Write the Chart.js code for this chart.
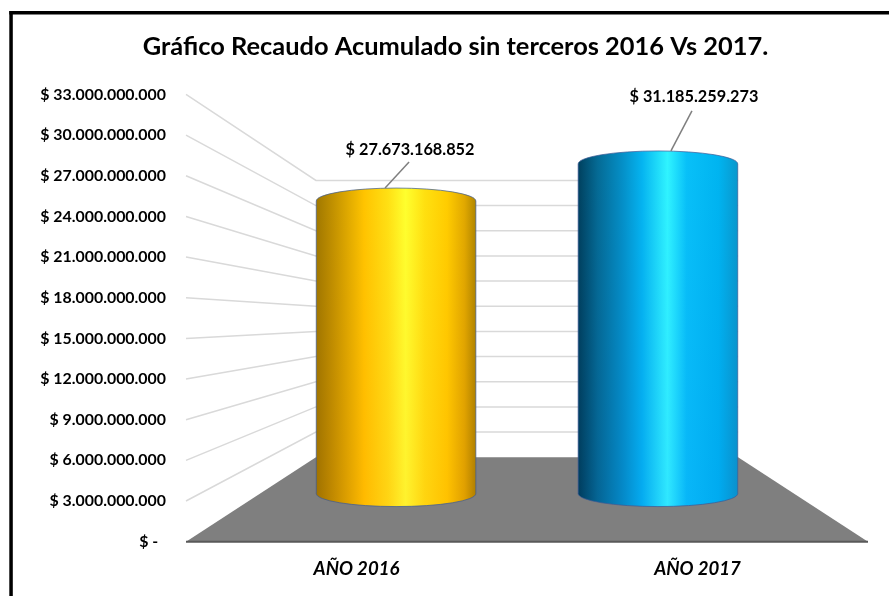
<!DOCTYPE html>
<html>
<head>
<meta charset="utf-8">
<script src="https://cdn.jsdelivr.net/npm/chart.js@4"></script>
<style>
  html, body { margin: 0; padding: 0; background: #fff; }
  canvas { position: absolute; left: 0; top: 0; filter: blur(0.4px); }
</style>
</head>
<body>
<canvas id="grafico" width="889" height="596"></canvas>
<script>
// Datos
const years = ["AÑO 2016", "AÑO 2017"];
const recaudo = [27673168852, 31185259273];
const titulo = "Gráfico Recaudo Acumulado sin terceros 2016 Vs 2017.";
const yMax = 33000000000;
const yStep = 3000000000;

// Colores de cada cilindro
const gradientes = [
  [[0, "#a07800"], [0.1, "#c09000"], [0.3, "#ffc400"], [0.45, "#ffe014"], [0.56, "#ffff2e"], [0.68, "#ffe010"], [0.82, "#ffcc00"], [0.93, "#e0a800"], [1, "#b08600"]],
  [[0, "#00405e"], [0.12, "#056a94"], [0.28, "#0590c8"], [0.4, "#05b4f0"], [0.56, "#30f4ff"], [0.68, "#08c0f8"], [0.88, "#00b4f0"], [1, "#0a98cc"]]
];

// Desplazamiento de la linea guia y de la etiqueta sobre cada cilindro
const guias = [
  { x0: -11, x1: 13, y1: -26, tx: 14, ty: -38 },
  { x0: 13, x1: 34, y1: -40, tx: 36, ty: -54 }
];

const formatNumber = n => n.toString().replace(/\B(?=(\d{3})+(?!\d))/g, ".");

// Perspectiva: punto de fuga y escala del fondo y de los cilindros
const fugaX = 527;
const fugaFondoY = 320;
const fugaCilindroY = 323;
const escalaFondo = 0.619;
const escalaCilindro = 0.78;
const escalaCentro = 0.768;
const proj = (x, y, s, fy) => ({ x: fugaX + (x - fugaX) * s, y: fy + (y - fy) * s });

const cilindros = {
  id: "cilindros",
  afterLayout(chart) {
    // el titulo va un poco a la derecha del centro del lienzo
    chart.titleBlock.left += 23;
  },
  beforeDraw(chart) {
    // marco negro, solo arriba y a la izquierda
    const ctx = chart.ctx;
    ctx.save();
    ctx.fillStyle = "#000";
    ctx.fillRect(9.3, 11, 3.5, 585);
    ctx.fillRect(9.3, 11, 880, 3.5);
    ctx.restore();
  },
  beforeDatasetsDraw(chart) {
    const { ctx, chartArea: a, scales: { y: yScale } } = chart;
    ctx.save();

    // lineas de la pared
    ctx.strokeStyle = "#d9d9d9";
    ctx.lineWidth = 1.5;
    yScale.ticks.forEach(t => {
      if (t.value === 0) return;
      const py = yScale.getPixelForValue(t.value);
      const p1 = proj(a.left, py, escalaFondo, fugaFondoY);
      const p2 = proj(a.right, py, escalaFondo, fugaFondoY);
      ctx.beginPath();
      ctx.moveTo(a.left, py);
      ctx.lineTo(p1.x, p1.y);
      ctx.lineTo(p2.x, p2.y);
      ctx.stroke();
    });

    // piso
    const base = yScale.getPixelForValue(0);
    const b1 = proj(a.left, base, escalaFondo, fugaFondoY);
    const b2 = proj(a.right, base, escalaFondo, fugaFondoY);
    ctx.fillStyle = "#7f7f7f";
    ctx.beginPath();
    ctx.moveTo(a.left, base);
    ctx.lineTo(b1.x, b1.y);
    ctx.lineTo(b2.x, b2.y);
    ctx.lineTo(a.right, base);
    ctx.closePath();
    ctx.fill();
    ctx.strokeStyle = "#595959";
    ctx.lineWidth = 2;
    ctx.beginPath();
    ctx.moveTo(a.left, base);
    ctx.lineTo(a.right, base);
    ctx.stroke();

    // cilindros
    chart.getDatasetMeta(0).data.forEach((bar, i) => {
      const cx = fugaX + (bar.x - fugaX) * escalaCentro;
      const topY = proj(bar.x, bar.y, escalaCilindro, fugaCilindroY).y;
      const botY = proj(bar.x, bar.base, escalaCilindro, fugaCilindroY).y;
      const rx = bar.width / 2 * escalaCilindro;
      const ry = 13;
      const silueta = () => {
        ctx.beginPath();
        ctx.ellipse(cx, topY, rx, ry, 0, Math.PI, 0);
        ctx.ellipse(cx, botY, rx, ry, 0, 0, Math.PI);
        ctx.closePath();
      };
      const g = ctx.createLinearGradient(cx - rx, 0, cx + rx, 0);
      gradientes[i].forEach(s => g.addColorStop(s[0], s[1]));
      silueta();
      ctx.fillStyle = g;
      ctx.fill();

      // abajo el brillo es un poco mas apagado
      const sombra = ctx.createLinearGradient(0, topY, 0, botY);
      sombra.addColorStop(0, "#ffffff");
      sombra.addColorStop(1, "#fff2ff");
      ctx.globalCompositeOperation = "multiply";
      silueta();
      ctx.fillStyle = sombra;
      ctx.fill();
      ctx.globalCompositeOperation = "source-over";

      silueta();
      ctx.strokeStyle = "rgba(60,90,150,0.7)";
      ctx.lineWidth = 1;
      ctx.stroke();

      // linea guia y etiqueta
      const cimaY = topY - ry;
      const guia = guias[i];
      ctx.strokeStyle = "#7f7f7f";
      ctx.lineWidth = 1.5;
      ctx.beginPath();
      ctx.moveTo(cx + guia.x0, cimaY);
      ctx.lineTo(cx + guia.x1, cimaY + guia.y1);
      ctx.stroke();
      ctx.fillStyle = "#000";
      ctx.font = "bold 16.3px Lato";
      ctx.textAlign = "center";
      ctx.textBaseline = "middle";
      ctx.fillText("$ " + formatNumber(recaudo[i]), cx + guia.tx, cimaY + guia.ty);
    });

    ctx.restore();
    return false;
  }
};

new Chart(document.getElementById("grafico"), {
  type: "bar",
  data: {
    labels: years,
    datasets: [{ data: recaudo, backgroundColor: "#ffc000", barPercentage: 0.6, categoryPercentage: 1 }]
  },
  options: {
    responsive: false,
    animation: false,
    layout: { padding: { left: 20, right: 21, top: 31.5, bottom: 0 } },
    plugins: {
      legend: { display: false },
      tooltip: { enabled: false },
      title: {
        display: true,
        text: titulo,
        color: "#000",
        font: { family: "Lato", size: 25.4, weight: "bold" },
        padding: { top: 0, bottom: 32.5 }
      }
    },
    scales: {
      x: {
        grid: { display: false, drawTicks: false },
        border: { display: false },
        ticks: { color: "#000", padding: 16, font: { family: "Lato", size: 18.6, weight: "bold", style: "italic" } }
      },
      y: {
        min: 0,
        max: yMax,
        grid: { display: false, drawTicks: false },
        border: { display: false },
        afterFit(scale) { scale.width = 166; },
        ticks: {
          stepSize: yStep,
          color: "#000",
          padding: 20,
          font: { family: "Lato", size: 15.9, weight: "bold" },
          callback: v => v === 0 ? "$ -  " : "$ " + formatNumber(v)
        }
      }
    }
  },
  plugins: [cilindros]
});
</script>
</body>
</html>
